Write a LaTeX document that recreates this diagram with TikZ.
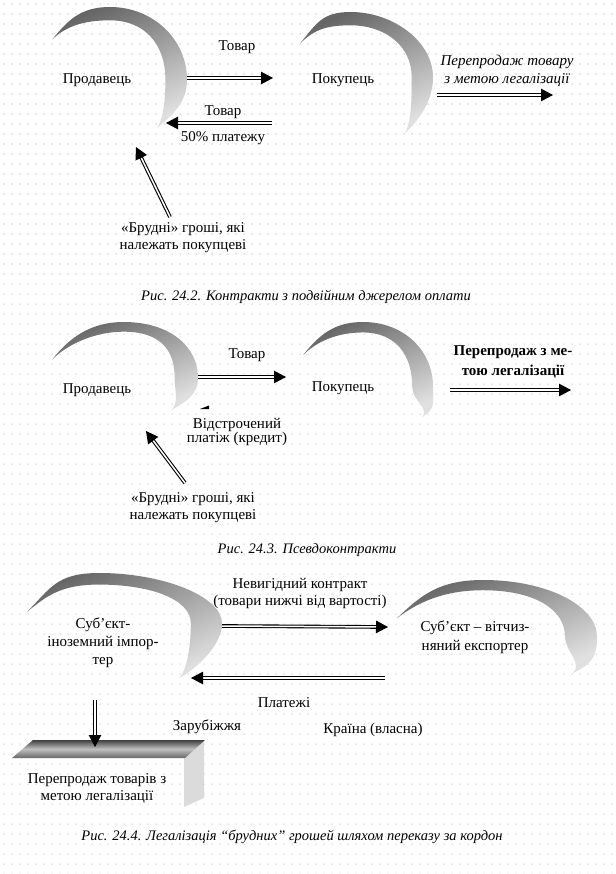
\documentclass[tikz,border=0pt]{standalone}
\usepackage{fontspec}
\setmainfont{Liberation Serif}
\usetikzlibrary{arrows.meta}
\tikzset{
  txt/.style={font=\fontsize{15}{17}\selectfont, align=center, inner sep=0pt},
  captxt/.style={font=\fontsize{14.5}{17}\selectfont\itshape, align=center, inner sep=0pt},
  dbl/.style={draw=black, double=white, double distance=1.5pt, line width=1.1pt,
     -{Triangle[length=12pt,width=12.5pt]}},
}
\newcommand{\crescent}[8]{%
 \begin{scope}[shift={(#1,#2)},xscale=#3,yscale=#4]
  \shade[top color=black!60, bottom color=black!12, shading angle=25]
   (0,#5) .. controls (0.12,#5*0.4) and (#6-0.22,0) .. (#6,0)
   .. controls (#6+0.32,0) and (1,#7*0.45) .. (1,#7)
   .. controls (1,#7+0.2) and (#8+0.1,0.9) .. (#8,1)
   .. controls (#8+0.05,0.9) and (0.84,#7+0.15) .. (0.84,#7)
   .. controls (0.84,#7*0.5) and (#6+0.25,0.11) .. (#6,0.11)
   .. controls (#6-0.2,0.11) and (0.1,#5*0.6) .. cycle;
 \end{scope}}
\begin{document}
\begin{tikzpicture}[x=1pt,y=-1pt]
\useasboundingbox (0,0) rectangle (615,874);
\fill[white] (0,0) rectangle (615,874);
% background dot grid
\foreach \j in {0,...,87} {
  \fill[black!25] \foreach \i in {0,...,76} {(3.5+\i*8,3.5+\j*10) rectangle ++(1.1,1.1)};
}

% ===== Diagram 1 =====
\crescent{52}{7}{135}{121}{0.27}{0.43}{0.6}{0.78}
\crescent{300}{12}{133}{121}{0.26}{0.38}{0.54}{0.79}
\node[txt] (prod1) at (97,80) {Продавець};
\node[txt] (pok1) at (343,80) {Покупець};
\node[txt] (tov1a) at (237,47) {Товар};
\node[txt] (tov1b) at (223,112) {Товар};
\node[txt] (plat1) at (223,138) {50\% платежу};
\node[txt] (dirty1) at (183,238) {«Брудні» гроші, які\\належать покупцеві};
\node[txt, font=\fontsize{15}{18}\selectfont\itshape] (resale1) at (507,71) {Перепродаж товару\\з метою легалізації};
\coordinate (a1s) at (187,78); \coordinate (a1e) at (273,78);
\coordinate (a2s) at (272,123); \coordinate (a2e) at (166,123);
\coordinate (a3s) at (170,217); \coordinate (a3e) at (136,147);
\coordinate (a4s) at (437,95); \coordinate (a4e) at (553,95);
\draw[dbl] (a1s) -- (a1e);
\draw[dbl] (a2s) -- (a2e);
\draw[dbl] (a3s) -- (a3e);
\draw[dbl] (a4s) -- (a4e);
\node[captxt] (cap1) at (306,297) {Рис. 24.2. Контракти з подвійним джерелом оплати};

% ===== Diagram 2 =====
\crescent{52}{322}{146}{88}{0.43}{0.49}{0.63}{0.82}
\crescent{303}{322}{130}{95}{0.35}{0.46}{0.68}{0.92}
\node[txt] (prod2) at (97,390) {Продавець};
\node[txt] (pok2) at (343,388) {Покупець};
\node[txt] (tov2) at (247,355) {Товар};
\node[txt, font=\fontsize{15}{14}\selectfont] (defer2) at (237,432) {Відстрочений\\платіж (кредит)};
\node[txt] (dirty2) at (193,508) {«Брудні» гроші, які\\належать покупцеві};
\node[txt, font=\fontsize{15}{20}\selectfont\bfseries] (resale2) at (513,362) {Перепродаж з ме-\\тою легалізації};
\fill[black] (200,409) -- (209,405.5) -- (209,409) -- cycle;
\coordinate (b1s) at (198,377); \coordinate (b1e) at (286,377);
\coordinate (b2s) at (185,483); \coordinate (b2e) at (146,431);
\coordinate (b3s) at (450,390); \coordinate (b3e) at (571,390);
\draw[dbl] (b1s) -- (b1e);
\draw[dbl] (b2s) -- (b2e);
\draw[dbl] (b3s) -- (b3e);
\node[captxt] (cap2) at (307,550) {Рис. 24.3. Псевдоконтракти};

% ===== Diagram 3 =====
\crescent{27}{573}{195}{105}{0.37}{0.37}{0.48}{0.78}
\crescent{397}{580}{200}{93}{0.41}{0.43}{0.61}{0.88}
\node[txt, font=\fontsize{15}{18}\selectfont] (imp) at (103,643) {Суб’єкт-\\іноземний імпор-\\тер};
\node[txt, font=\fontsize{15}{19}\selectfont] (exp) at (475,637) {Суб’єкт – вітчиз-\\няний експортер};
\node[txt] (contr) at (300,593) {Невигідний контракт\\(товари нижчі від вартості)};
\node[txt] (plat3) at (284,703) {Платежі};
\node[txt] (zar) at (207,727) {Зарубіжжя};
\node[txt] (kr) at (373,730) {Країна (власна)};
% slab
\fill[black!14] (184,758) -- (204,741) -- (204,798) -- (184,807) -- cycle;
\shade[top color=black!75, bottom color=black!60, middle color=black!25]
  (12,758) -- (33,740) -- (205,740) -- (185,758) -- cycle;
\node[txt, font=\fontsize{15}{17}\selectfont] (resale3) at (97,788) {Перепродаж товарів з\\метою легалізації};
\coordinate (c1s) at (222,626); \coordinate (c1e) at (388,627);
\coordinate (c2s) at (385,678); \coordinate (c2e) at (191,678);
\coordinate (c3s) at (95,700); \coordinate (c3e) at (95,747);
\draw[dbl] (c1s) -- (c1e);
\draw[dbl] (c2s) -- (c2e);
\draw[dbl] (c3s) -- (c3e);
\node[captxt] (cap3) at (292,837) {Рис. 24.4. Легалізація “брудних” грошей шляхом переказу за кордон};
\end{tikzpicture}
\end{document}
